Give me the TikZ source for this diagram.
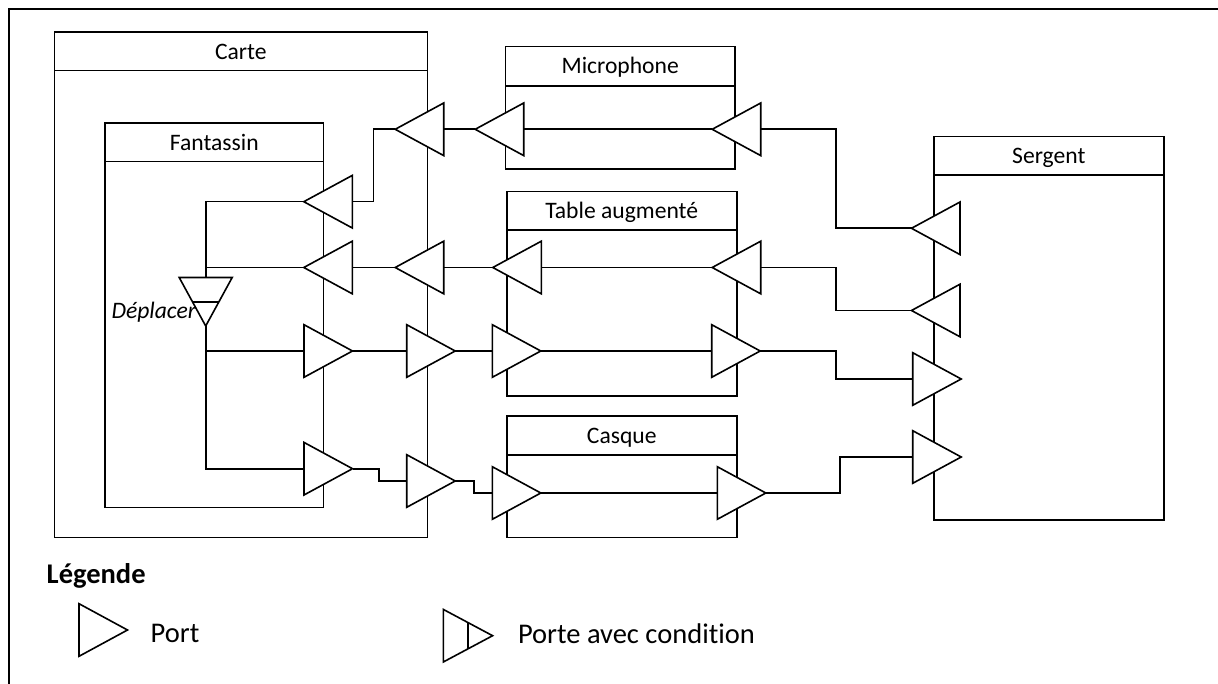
\documentclass[tikz,border=0pt]{standalone}
\usepackage{fontspec}
\setmainfont{Carlito}[Ligatures=NoCommon]
\pgfdeclarelayer{bg}
\pgfsetlayers{bg,main}
\begin{document}
\begin{tikzpicture}[x=1pt,y=-1pt,
  every node/.style={inner sep=0pt,outer sep=0pt},
  ln/.style={line width=1.6pt},
  box/.style={draw,line width=1.6pt,rectangle,anchor=north west,inner sep=0pt,outer sep=0pt},
  lbl/.style={font=\fontsize{23.6}{28}\selectfont,anchor=base},
  leg/.style={font=\fontsize{28.5}{34}\selectfont,anchor=base west},
  pics/portl/.style={code={
     \draw[ln,fill=white,line join=miter] (0,-26.3) -- (-48.5,0) -- (0,26.3) -- cycle;
     \coordinate (-in) at (0,0); \coordinate (-out) at (-48.5,0);}},
  pics/portr/.style={code={
     \draw[ln,fill=white,line join=miter] (0,-26.3) -- (48.5,0) -- (0,26.3) -- cycle;
     \coordinate (-in) at (0,0); \coordinate (-out) at (48.5,0);}},
  pics/condr/.style={code={
     \draw[ln,fill=white,line join=miter] (0,-26.3) -- (49.3,0) -- (0,26.3) -- cycle;
     \draw[ln] (24.65,-13.15) -- (24.65,13.15);
     \coordinate (-in) at (0,0); \coordinate (-out) at (49.3,0);}},
  pics/condd/.style={code={
     \draw[ln,fill=white,line join=miter] (-26.5,0) -- (0,48.5) -- (26.5,0) -- cycle;
     \draw[ln] (-13.25,24.25) -- (13.25,24.25);
     \coordinate (-top) at (0,0); \coordinate (-tip) at (0,48.5);}}
]
\useasboundingbox (0,0) rectangle (1218,684);

% ports
\pic (c1) at (443.7,129.3) {portl};
\pic (m1) at (523.7,129.3) {portl};
\pic (m2) at (760.7,129.3) {portl};
\pic (f1) at (352.3,201.7) {portl};
\pic (s1) at (960,228.3) {portl};
\pic (f2) at (352.3,267.5) {portl};
\pic (c2) at (443.7,267.5) {portl};
\pic (t1) at (541.3,267.5) {portl};
\pic (t2) at (760.7,267.5) {portl};
\pic (s2) at (960,310.5) {portl};
\pic (f3) at (304,351) {portr};
\pic (c3) at (406.7,351) {portr};
\pic (t3) at (492.3,351) {portr};
\pic (t4) at (711.7,351) {portr};
\pic (s3) at (912.7,379) {portr};
\pic (f4) at (304,468.7) {portr};
\pic (c4) at (406.7,481) {portr};
\pic (k1) at (492.3,493) {portr};
\pic (k2) at (717.3,493) {portr};
\pic (s4) at (912.7,457) {portr};
\pic (d) at (205.7,277.5) {condd};

\begin{pgfonlayer}{bg}
  % frame
  \draw[line width=2pt] (9,684) -- (9,9.3) -- (1218,9.3);
  % boxes
  \node[box,minimum width=373pt,minimum height=505pt] (carte) at (54.3,32.3) {};
  \draw[ln] (54.3,70.7) -- (427.3,70.7);
  \node[box,minimum width=218.5pt,minimum height=384pt] (fant) at (105,123.3) {};
  \draw[ln] (105,161.7) -- (323.5,161.7);
  \node[box,minimum width=229.7pt,minimum height=122.3pt] (micro) at (505.3,46.7) {};
  \draw[ln] (505.3,86) -- (735,86);
  \node[box,minimum width=230pt,minimum height=204.3pt] (table) at (506.7,191.7) {};
  \draw[ln] (506.7,230) -- (736.7,230);
  \node[box,minimum width=229.7pt,minimum height=121.3pt] (casque) at (507,416) {};
  \draw[ln] (507,455) -- (736.7,455);
  \node[box,minimum width=229.7pt,minimum height=383.3pt] (serg) at (934,136.7) {};
  \draw[ln] (934,175) -- (1163.7,175);

  % connectors
  \draw[ln] (d-top) |- (f1-out);
  \draw[ln] (f2-out) -- (f2-out -| d-top);
  \draw[ln] (f1-in) -- ++(21,0) |- (c1-out);
  \draw[ln] (c1-in) -- (m1-out);
  \draw[ln] (m1-in) -- (m2-out);
  \draw[ln] (m2-in) -- ++(75.3,0) |- (s1-out);
  \draw[ln] (f2-in) -- (c2-out);
  \draw[ln] (c2-in) -- (t1-out);
  \draw[ln] (t1-in) -- (t2-out);
  \draw[ln] (t2-in) -- ++(75.3,0) |- (s2-out);
  \draw[ln] (d-tip) |- (f4-in);
  \draw[ln] (f3-in) -- (f3-in -| d-tip);
  \draw[ln] (f3-out) -- (c3-in);
  \draw[ln] (c3-out) -- (t3-in);
  \draw[ln] (t3-out) -- (t4-in);
  \draw[ln] (t4-out) -- ++(76,0) |- (s3-in);
  \draw[ln] (f4-out) -- ++(26.7,0) |- (c4-in);
  \draw[ln] (c4-out) -- ++(18.6,0) |- (k1-in);
  \draw[ln] (k1-out) -- (k2-in);
  \draw[ln] (k2-out) -- ++(74,0) |- (s4-in);
\end{pgfonlayer}

% titles
\node[lbl] (tcarte) at (240.8,59.1) {Carte};
\node[lbl] (tfant) at (214.3,150.1) {Fantassin};
\node[lbl] (tmicro) at (620.2,73.9) {Microphone};
\node[lbl] (ttable) at (621.7,218.4) {Table augmenté};
\node[lbl] (tcasque) at (621.8,443.1) {Casque};
\node[lbl] (tserg) at (1048.8,163.5) {Sergent};
\node[lbl,anchor=base east,font=\fontsize{23.6}{28}\selectfont\itshape] (tdep) at (196,319) {Déplacer};

% legend
\node[leg,font=\fontsize{28.5}{34}\selectfont\bfseries] (tleg) at (46.7,583.3) {Légende};
\pic (lp) at (79,630) {portr};
\node[leg] (tport) at (150.7,642.7) {Port};
\pic (lc) at (443.3,635.7) {condr};
\node[leg] (tcond) at (518,643.3) {Porte avec condition};
\end{tikzpicture}
\end{document}
